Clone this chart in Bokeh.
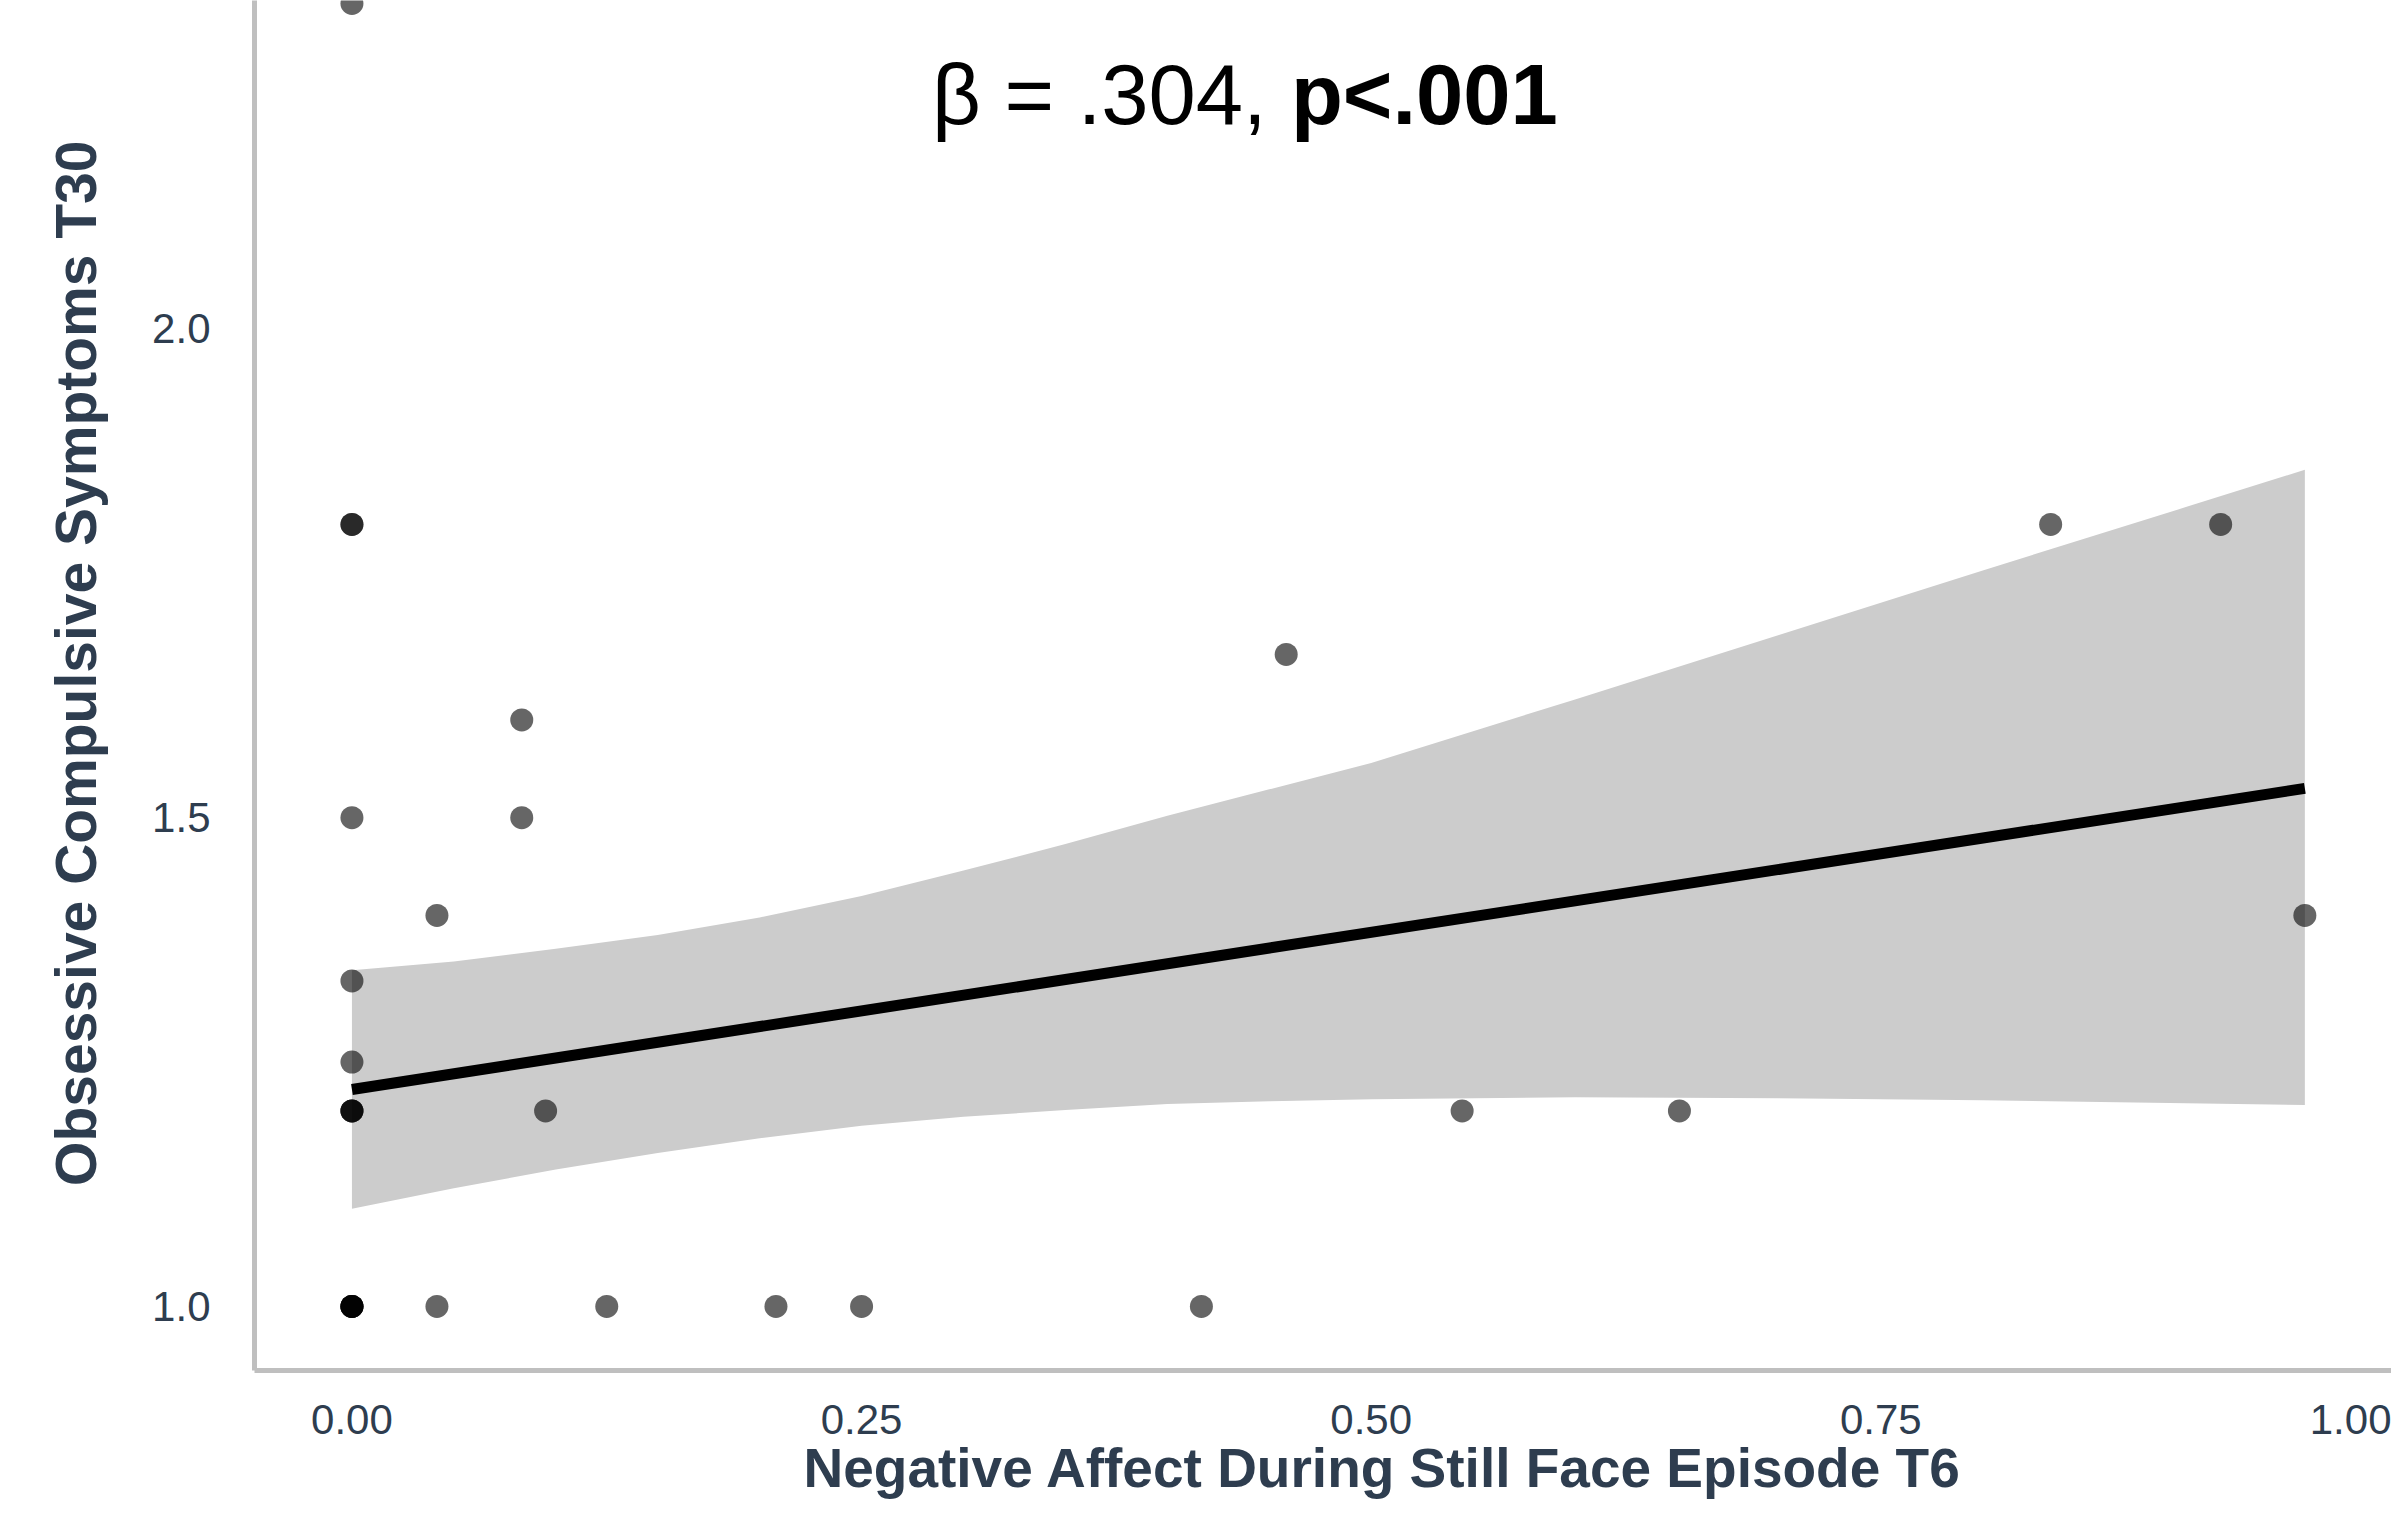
from bokeh.plotting import figure
from bokeh.models import Range1d, FixedTicker, Label, NumeralTickFormatter, Title
from bokeh.embed import file_html
from bokeh.resources import INLINE

# ---- data ----
x_vals = [0.0, 0.0, 0.0, 0.0, 0.0, 0.0, 0.0, 0.0, 0.0, 0.0, 0.0, 0.0, 0.0, 0.0,
          0.0417, 0.0417, 0.0833, 0.0833, 0.095, 0.125, 0.208, 0.25, 0.4167,
          0.4583, 0.5446, 0.6512, 0.8333, 0.9167, 0.958]
y_vals = [2.333, 1.8, 1.8, 1.5, 1.333, 1.25, 1.2, 1.2, 1.2, 1.0, 1.0, 1.0, 1.0, 1.0,
          1.4, 1.0, 1.6, 1.5, 1.2, 1.0, 1.0, 1.0, 1.0,
          1.667, 1.2, 1.2, 1.8, 1.8, 1.4]

fit_x = [0.0, 0.958]
fit_y = [1.222, 1.530]

band_x = [0.0, 0.05, 0.1, 0.15, 0.2, 0.25, 0.3, 0.35, 0.4, 0.45, 0.5, 0.6, 0.7, 0.8, 0.9, 0.958]
band_upper = [1.344, 1.353, 1.366, 1.380, 1.398, 1.420, 1.446, 1.473, 1.502, 1.529, 1.556,
              1.621, 1.687, 1.753, 1.818, 1.856]
band_lower = [1.100, 1.121, 1.140, 1.157, 1.172, 1.185, 1.194, 1.201, 1.207, 1.210, 1.212,
              1.214, 1.213, 1.211, 1.208, 1.206]

x_ticks = [0.0, 0.25, 0.5, 0.75, 1.0]
x_tick_labels = ["0.00", "0.25", "0.50", "0.75", "1.00"]
y_ticks = [1.0, 1.5, 2.0]
y_tick_labels = ["1.0", "1.5", "2.0"]

x_title = "Negative Affect During Still Face Episode T6"
y_title = "Obsessive Compulsive Symptoms T30"
stat_text = "\u03b2 = .304, "
sig_text = "p<.001"

TEXT_COL = "#2E3D4F"
AXIS_COL = "#BFBFBF"
FONT = "Liberation Sans"

p = figure(width=2391, height=1517, output_backend="svg", toolbar_location=None,
           x_range=Range1d(-0.0478, 1.0005), y_range=Range1d(0.9345, 2.336),
           min_border_left=254, min_border_right=0, min_border_top=0,
           min_border_bottom=147)
p.outline_line_color = None
p.grid.visible = False
p.background_fill_color = "white"
p.border_fill_color = "white"

p.varea(x=band_x, y1=band_lower, y2=band_upper, fill_color="#CCCCCC")
p.line(fit_x, fit_y, line_width=11, line_color="black")
p.scatter(x_vals, y_vals, size=23, fill_color="black", fill_alpha=0.6, line_color=None)

for ax, ticks, labels, fmt in ((p.xaxis[0], x_ticks, x_tick_labels, "0.00"),
                               (p.yaxis[0], y_ticks, y_tick_labels, "0.0")):
    ax.ticker = FixedTicker(ticks=ticks)
    ax.formatter = NumeralTickFormatter(format=fmt)
    ax.major_label_overrides = {t: l for t, l in zip(ticks, labels)}
    ax.axis_line_color = AXIS_COL
    ax.axis_line_width = 5
    ax.major_tick_line_color = None
    ax.minor_tick_line_color = None
    ax.major_tick_out = 0
    ax.major_tick_in = 0
    ax.major_label_text_font = FONT
    ax.major_label_text_font_size = "42px"
    ax.major_label_text_color = TEXT_COL

p.xaxis.major_label_standoff = 34
p.yaxis.major_label_standoff = 44

p.add_layout(Title(text=y_title, align="right", vertical_align="middle", offset=140,
                   standoff=82, text_font=FONT, text_font_style="bold",
                   text_font_size="57px", text_color=TEXT_COL), "left")
p.add_layout(Title(text=x_title, align="left", vertical_align="top", offset=549,
                   standoff=0, text_font=FONT, text_font_style="bold",
                   text_font_size="55px", text_color=TEXT_COL), "below")

p.add_layout(Label(x=0.2845, y=2.2398, text=stat_text, text_align="left",
                   text_baseline="alphabetic", text_font=FONT,
                   text_font_size="85px", text_color="black"))
p.add_layout(Label(x=0.4606, y=2.2398, text=sig_text, text_align="left",
                   text_baseline="alphabetic", text_font=FONT, text_font_style="bold",
                   text_font_size="85px", text_color="black"))

open("out.html", "w").write(file_html(p, INLINE))
